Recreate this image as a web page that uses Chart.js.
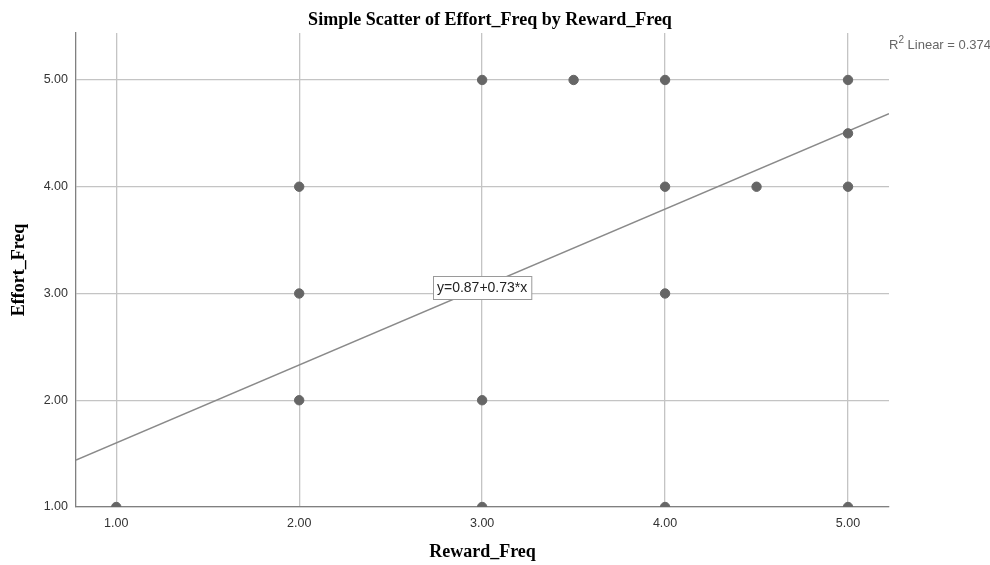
<!DOCTYPE html>
<html>
<head>
<meta charset="utf-8">
<script src="https://cdn.jsdelivr.net/npm/chart.js@4.4.0/dist/chart.umd.min.js"></script>
<style>
  html, body { margin: 0; padding: 0; background: #fff; }
  #wrap { width: 990px; height: 565px; }
</style>
</head>
<body>
<div id="wrap"><canvas id="scatterChart" width="990" height="565"></canvas></div>
<script>
// data
const rewardFreq = [1, 2, 2, 2, 3, 3, 3, 3.5, 4, 4, 4, 4, 4.5, 5, 5, 5, 5];
const effortFreq = [1, 4, 3, 2, 5, 2, 1, 5, 5, 4, 3, 1, 4, 5, 4.5, 4, 1];

const xTicks = [1, 2, 3, 4, 5];
const yTicks = [1, 2, 3, 4, 5];
const xRange = [0.78, 5.224];
const yRange = [1, 5.44];

// fit line y = 0.87 + 0.73*x
const fitIntercept = 0.87;
const fitSlope = 0.73;
const fitLabel = "y=0.87+0.73*x";
const r2Value = "0.374";

const points = rewardFreq.map((x, i) => ({ x: x, y: effortFreq[i] }));
const fitLine = xRange.map(x => ({ x: x, y: fitIntercept + fitSlope * x }));

const serif = "'Liberation Serif', 'Times New Roman', serif";
const sans = "'Liberation Sans', Arial, sans-serif";

// titles, equation box and R² note
const annotations = {
    id: "annotations",
    afterDraw(chart) {
        const c = chart.ctx;
        const xs = chart.scales.x;
        const ys = chart.scales.y;
        c.save();

        c.fillStyle = "#000";
        c.font = "bold 18px " + serif;
        c.textAlign = "center";
        c.textBaseline = "alphabetic";
        c.fillText("Simple Scatter of Effort_Freq by Reward_Freq", 490, 25);

        // equation box centred on the line at x = 3
        const bx = xs.getPixelForValue(3);
        const by = ys.getPixelForValue(fitIntercept + fitSlope * 3);
        c.font = "14px " + sans;
        const w = c.measureText(fitLabel).width + 8;
        const h = 23;
        c.fillStyle = "#fff";
        c.fillRect(Math.round(bx - w / 2) + 0.5, Math.round(by - h / 2) + 0.5, w, h);
        c.strokeStyle = "#9a9a9a";
        c.lineWidth = 1;
        c.strokeRect(Math.round(bx - w / 2) + 0.5, Math.round(by - h / 2) + 0.5, w, h);
        c.fillStyle = "#222";
        c.textBaseline = "middle";
        c.fillText(fitLabel, bx, by + 1);

        // R² Linear
        c.textAlign = "left";
        c.textBaseline = "alphabetic";
        c.fillStyle = "#666";
        let x = 889;
        c.font = "13px " + sans;
        c.fillText("R", x, 49);
        x += c.measureText("R").width;
        c.font = "10px " + sans;
        c.fillText("2", x, 43);
        x += c.measureText("2").width;
        c.font = "13px " + sans;
        c.fillText(" Linear = " + r2Value, x, 49);

        c.restore();
    }
};

const ctx = document.getElementById("scatterChart");

new Chart(ctx, {
    type: "scatter",
    data: {
        datasets: [
            {
                label: "Effort_Freq",
                data: points,
                backgroundColor: "#666666",
                borderColor: "#666666",
                pointRadius: 4.7,
                pointHoverRadius: 4.7,
                clip: 0,
                order: 1
            },
            {
                type: "line",
                label: "Fit",
                data: fitLine,
                borderColor: "#8a8a8a",
                borderWidth: 1.5,
                pointRadius: 0,
                fill: false,
                clip: 0,
                order: 2
            }
        ]
    },
    options: {
        responsive: false,
        animation: false,
        layout: {
            padding: { top: 33, right: 101, left: 0, bottom: 0 }
        },
        plugins: {
            legend: { display: false },
            title: { display: false },
            tooltip: { enabled: false }
        },
        scales: {
            x: {
                type: "linear",
                min: xRange[0],
                max: xRange[1],
                afterBuildTicks: s => { s.ticks = xTicks.map(v => ({ value: v })); },
                afterFit: s => { s.height = 58; },
                grid: { color: "#c4c4c4", lineWidth: 1.3, drawTicks: false },
                border: { color: "#808080", width: 1.3 },
                ticks: {
                    padding: 9,
                    color: "#333",
                    font: { family: sans, size: 12.5 },
                    callback: v => Number(v).toFixed(2)
                },
                title: {
                    display: true,
                    text: "Reward_Freq",
                    color: "#000",
                    font: { family: serif, size: 18, weight: "bold" },
                    padding: { top: 0, bottom: 2 }
                }
            },
            y: {
                type: "linear",
                min: yRange[0],
                max: yRange[1],
                afterBuildTicks: s => { s.ticks = yTicks.map(v => ({ value: v })); },
                afterFit: s => { s.width = 76; },
                grid: { color: "#c4c4c4", lineWidth: 1.3, drawTicks: false },
                border: { color: "#808080", width: 1.3 },
                ticks: {
                    padding: 8,
                    color: "#333",
                    font: { family: sans, size: 12.5 },
                    callback: v => Number(v).toFixed(2)
                },
                title: {
                    display: true,
                    text: "Effort_Freq",
                    color: "#000",
                    font: { family: serif, size: 18, weight: "bold" },
                    padding: { top: 9, bottom: 0 }
                }
            }
        }
    },
    plugins: [annotations]
});
</script>
</body>
</html>
